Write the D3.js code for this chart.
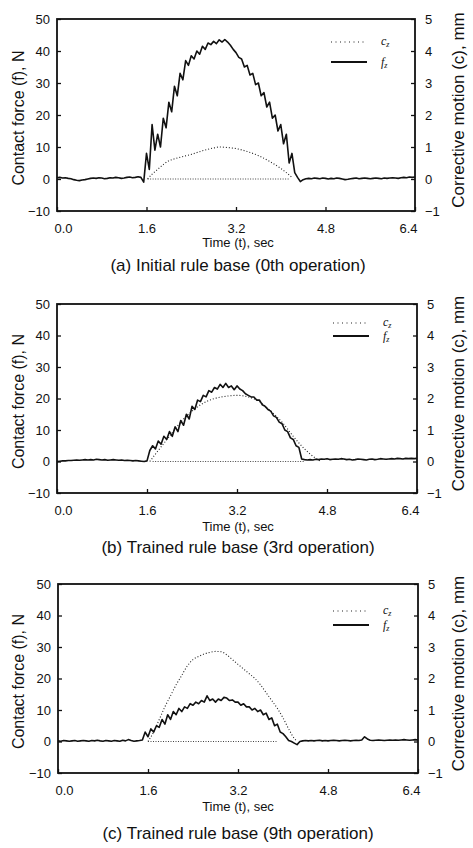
<!DOCTYPE html>
<html>
<head>
<meta charset="utf-8">
<script src="https://cdn.jsdelivr.net/npm/d3@7"></script>
<style>
  body { margin: 0; background: #fff; }
  svg { display: block; }
  .axis text { font-family: "Liberation Sans", Arial, sans-serif; font-size: 13px; fill: #111; }
  .axis line { stroke: #111; stroke-width: 1.3; }
  .lbl { font-family: "Liberation Sans", Arial, sans-serif; fill: #111; }
  .leg { font-family: "Liberation Serif", "DejaVu Serif", serif; font-style: italic; fill: #111; }
</style>
</head>
<body>
<svg id="chart" width="473" height="848"></svg>
<script>
// ---- data ----
var timeTicks = [0, 1.6, 3.2, 4.8, 6.4];
var forceTicks = [-10, 0, 10, 20, 30, 40, 50];
var motionTicks = [-1, 0, 1, 2, 3, 4, 5];
var captions = ["(a) Initial rule base (0th operation)",
                "(b) Trained rule base (3rd operation)",
                "(c) Trained rule base (9th operation)"];

// force samples every 0.05 s, 0 .. 6.4 s (one row = 0.5 s)
var sampleStep = 0.05;
var fzA = [
  0.4, 0.5, 0.3, 0.4, 0.2, 0.1, -0.2, -0.4, -0.5, -0.3,
  -0.2, 0.0, 0.2, 0.3, 0.2, 0.4, 0.3, 0.1, 0.2, 0.4,
  0.3, 0.5, 0.4, 0.2, 0.3, 0.5, 0.6, 0.4, 0.5, 0.7,
  0.5, -1.0, 8, 3, 17, 9, 14, 10, 19, 16,
  24, 21, 29, 26, 33, 31, 37, 35.5, 38.5, 37.5,
  40, 39, 41.5, 40.5, 42.5, 42, 43, 42.3, 43.5, 42.8,
  43.6, 42.8, 41.8, 40.5, 39.5, 38, 37.5, 35, 35.5, 32.5,
  33, 29.5, 30, 26, 27, 22.5, 24, 19, 20, 15,
  17, 11, 14, 5, 8, 2, 0.5, -0.8, -0.2, 0.1,
  0.2, 0.1, 0.3, 0.2, 0.1, 0.3, 0.2, 0.0, 0.2, 0.1,
  0.3, 0.2, 0.0, -0.2, -0.1, 0.1, 0.2, 0.3, 0.1, 0.2,
  0.3, 0.2, 0.1, 0.2, 0.3, 0.2, 0.1, 0.3, 0.2, 0.3,
  0.4, 0.3, 0.2, 0.4, 0.5, 0.4, 0.6, 0.5, 0.6
];
var fzB = [
  0.0, 0.1, 0.2, 0.2, 0.3, 0.3, 0.4, 0.5, 0.4, 0.5,
  0.6, 0.5, 0.6, 0.5, 0.7, 0.6, 0.5, 0.6, 0.4, 0.5,
  0.6, 0.5, 0.4, 0.5, 0.3, 0.4, 0.3, 0.2, 0.3, 0.2,
  0.1, 0.0, 0.2, 3.5, 5, 4, 6.5, 5.5, 8, 7,
  9.5, 8, 11, 9.5, 13, 11.5, 15, 13.5, 17.5, 16.5,
  19.5, 19, 21, 20.5, 22.5, 22, 23.5, 23, 24.5, 23.5,
  24.8, 23.5, 24, 22.8, 24, 23, 22.5, 21.5, 21, 20.5,
  20.5, 19.5, 19.5, 18, 17.5, 16.5, 16, 14.5, 14, 12.5,
  12, 10, 9.5, 7.5, 7, 5, 4.5, 0.8, 0.6, 0.5,
  0.6, 0.5, 0.7, 0.6, 0.8, 0.7, 0.9, 0.6, 0.7, 0.8,
  0.7, 0.9, 0.8, 0.6, 0.7, 0.5, 0.6, 0.8, 0.7, 0.6,
  0.5, 0.7, 0.8, 0.6, 0.7, 0.9, 0.8, 0.7, 0.8, 0.9,
  0.8, 1.0, 0.9, 0.8, 1.0, 0.9, 1.0, 0.9, 1.0
];
var fzC = [
  0.2, 0.1, 0.3, 0.2, 0.1, 0.2, 0.3, 0.1, 0.2, 0.3,
  0.2, 0.1, 0.3, 0.2, 0.4, 0.2, 0.1, 0.3, 0.2, 0.1,
  0.3, 0.2, 0.1, 0.4, 0.2, 0.6, 0.3, 0.1, 0.2, 0.3,
  0.5, 3, 1.5, 4, 3, 5, 4.5, 7, 5.5, 8.5,
  7, 9.5, 8.5, 10.5, 9.5, 11, 10.5, 12, 11.5, 12.5,
  12, 13, 12.5, 14.5, 13, 13.5, 12.5, 13.5, 13, 14,
  13.8, 13, 13.2, 12.5, 12.5, 11.5, 12, 11, 11, 10,
  10.5, 9.5, 10, 8.5, 9, 7, 7.5, 5, 5.5, 3,
  2.5, 1.5, 0.3, 0.0, -0.5, -1.0, 0.0, 0.2, 0.3, 0.2,
  0.3, 0.2, 0.3, 0.4, 0.2, 0.3, 0.2, 0.3, 0.4, 0.3,
  0.2, 0.3, 0.4, 0.3, 0.2, 0.3, 0.4, 0.3, 0.5, 1.5,
  0.8, 0.4, 0.3, 0.4, 0.5, 0.4, 0.3, 0.4, 0.5, 0.4,
  0.5, 0.4, 0.5, 0.6, 0.5, 0.4, 0.5, 0.6, 0.5
];

// corrective motion (mm)
var czTimesA = [1.62, 1.7, 1.8, 1.9, 2.0, 2.1, 2.2, 2.4, 2.6, 2.8, 2.9, 3.0, 3.2, 3.4, 3.6, 3.8, 4.0, 4.1, 4.2];
var czA      = [0, 0.15, 0.3, 0.45, 0.57, 0.63, 0.68, 0.77, 0.88, 0.97, 1.0, 0.99, 0.95, 0.86, 0.73, 0.55, 0.33, 0.2, 0.05];
var czTimesB = [1.65, 1.8, 2.0, 2.2, 2.4, 2.6, 2.8, 3.0, 3.2, 3.4, 3.6, 3.8, 4.0, 4.2, 4.4, 4.6, 4.7];
var czB      = [0, 0.35, 0.8, 1.25, 1.6, 1.85, 2.0, 2.07, 2.1, 2.05, 1.9, 1.6, 1.25, 0.8, 0.4, 0.1, 0];
var czTimesC = [1.6, 1.7, 1.8, 1.9, 2.0, 2.1, 2.2, 2.3, 2.4, 2.5, 2.6, 2.7, 2.8, 2.9, 3.0, 3.1, 3.2, 3.3, 3.4, 3.5, 3.6, 3.7, 3.8, 3.9, 4.0, 4.1, 4.2, 4.25];
var czC      = [0, 0.3, 0.7, 1.1, 1.45, 1.8, 2.1, 2.4, 2.6, 2.7, 2.78, 2.83, 2.86, 2.85, 2.75, 2.6, 2.45, 2.3, 2.15, 2.0, 1.8, 1.55, 1.3, 1.05, 0.75, 0.4, 0.1, 0];
// dotted zero segment of c_z during contact
var czBaseA = [1.62, 4.15];
var czBaseB = [1.7, 4.4];
var czBaseC = [1.6, 3.9];

// ---- layout ----
var panels = [
  { fz: fzA, czT: czTimesA, cz: czA, base: czBaseA, caption: captions[0],
    x0: 57, x1: 415, top: 19, bottom: 211, legY: [42, 62], legX: 331, capY: 271, timeY: 247 },
  { fz: fzB, czT: czTimesB, cz: czB, base: czBaseB, caption: captions[1],
    x0: 57, x1: 417, top: 304, bottom: 493, legY: [323, 336], legX: 333, capY: 553, timeY: 531 },
  { fz: fzC, czT: czTimesC, cz: czC, base: czBaseC, caption: captions[2],
    x0: 58, x1: 418, top: 584, bottom: 773, legY: [611, 625], legX: 333, capY: 839, timeY: 811 }
];

var svg = d3.select("#chart");
svg.append("rect").attr("width", 473).attr("height", 848).attr("fill", "#fff");

panels.forEach(function(p) {
  var x = d3.scaleLinear().domain([0, 6.4]).range([p.x0, p.x1]);
  var yF = d3.scaleLinear().domain([-10, 50]).range([p.bottom, p.top]);
  var yC = d3.scaleLinear().domain([-1, 5]).range([p.bottom, p.top]);

  var g = svg.append("g");

  // axes
  g.append("g").attr("class", "axis")
    .attr("transform", "translate(" + p.x0 + ",0)")
    .call(d3.axisLeft(yF).tickValues(forceTicks).tickFormat(d3.format("d"))
      .tickSizeInner(-4).tickSizeOuter(0).tickPadding(7));
  g.append("g").attr("class", "axis")
    .attr("transform", "translate(" + p.x1 + ",0)")
    .call(d3.axisRight(yC).tickValues(motionTicks).tickFormat(d3.format("d"))
      .tickSizeInner(-4).tickSizeOuter(0).tickPadding(10));
  var ab = g.append("g").attr("class", "axis")
    .attr("transform", "translate(0," + p.bottom + ")")
    .call(d3.axisBottom(x).tickValues(timeTicks).tickFormat(d3.format(".1f"))
      .tickSizeInner(-4).tickSizeOuter(0).tickPadding(13));
  ab.selectAll("text").attr("dx", function(d, i) {
    return i === 0 ? 6 : (i === timeTicks.length - 1 ? -7 : 0);
  });
  g.selectAll(".axis .domain").remove();

  // frame
  g.append("rect")
    .attr("x", p.x0).attr("y", p.top)
    .attr("width", p.x1 - p.x0).attr("height", p.bottom - p.top)
    .attr("fill", "none").attr("stroke", "#111").attr("stroke-width", 1.8);

  // c_z dotted
  var czLine = d3.line()
    .x(function(d, i) { return x(p.czT[i]); })
    .y(function(d) { return yC(d); })
    .curve(d3.curveMonotoneX);
  g.append("path").datum(p.cz)
    .attr("d", czLine)
    .attr("fill", "none").attr("stroke", "#222")
    .attr("stroke-width", 1.1).attr("stroke-dasharray", "1,2");
  g.append("line")
    .attr("x1", x(p.base[0])).attr("x2", x(p.base[1]))
    .attr("y1", yC(0)).attr("y2", yC(0))
    .attr("stroke", "#444").attr("stroke-width", 1).attr("stroke-dasharray", "1,1.5");

  // f_z solid
  var fzLine = d3.line()
    .x(function(d, i) { return x(i * sampleStep); })
    .y(function(d) { return yF(d); });
  g.append("path").datum(p.fz)
    .attr("d", fzLine)
    .attr("fill", "none").attr("stroke", "#111")
    .attr("stroke-width", 1.6).attr("stroke-linejoin", "round");

  // legend
  g.append("line")
    .attr("x1", p.legX).attr("x2", p.legX + 36)
    .attr("y1", p.legY[0]).attr("y2", p.legY[0])
    .attr("stroke", "#222").attr("stroke-width", 1.1).attr("stroke-dasharray", "1,3.5");
  g.append("line")
    .attr("x1", p.legX).attr("x2", p.legX + 36)
    .attr("y1", p.legY[1]).attr("y2", p.legY[1])
    .attr("stroke", "#111").attr("stroke-width", 1.8);
  var lc = g.append("text").attr("class", "leg")
    .attr("x", p.legX + 50).attr("y", p.legY[0] + 3).attr("font-size", 12);
  lc.append("tspan").text("c");
  lc.append("tspan").attr("dy", 2).attr("font-size", 8).text("z");
  var lf = g.append("text").attr("class", "leg")
    .attr("x", p.legX + 50).attr("y", p.legY[1] + 4).attr("font-size", 12);
  lf.append("tspan").text("f");
  lf.append("tspan").attr("dy", 2).attr("font-size", 8).text("z");

  // titles
  var mid = (p.top + p.bottom) / 2;
  g.append("text").attr("class", "lbl")
    .attr("transform", "translate(24," + (mid + 3) + ") rotate(-90)")
    .attr("text-anchor", "middle").attr("font-size", 16)
    .text("Contact force (f), N");
  g.append("text").attr("class", "lbl")
    .attr("transform", "translate(464," + (mid - 5) + ") rotate(-90)")
    .attr("text-anchor", "middle").attr("font-size", 17)
    .text("Corrective motion (c), mm");
  g.append("text").attr("class", "lbl")
    .attr("x", 238).attr("y", p.timeY)
    .attr("text-anchor", "middle").attr("font-size", 13)
    .text("Time (t), sec");
  g.append("text").attr("class", "lbl")
    .attr("x", 238).attr("y", p.capY)
    .attr("text-anchor", "middle").attr("font-size", 17)
    .text(p.caption);
});
</script>
</body>
</html>
